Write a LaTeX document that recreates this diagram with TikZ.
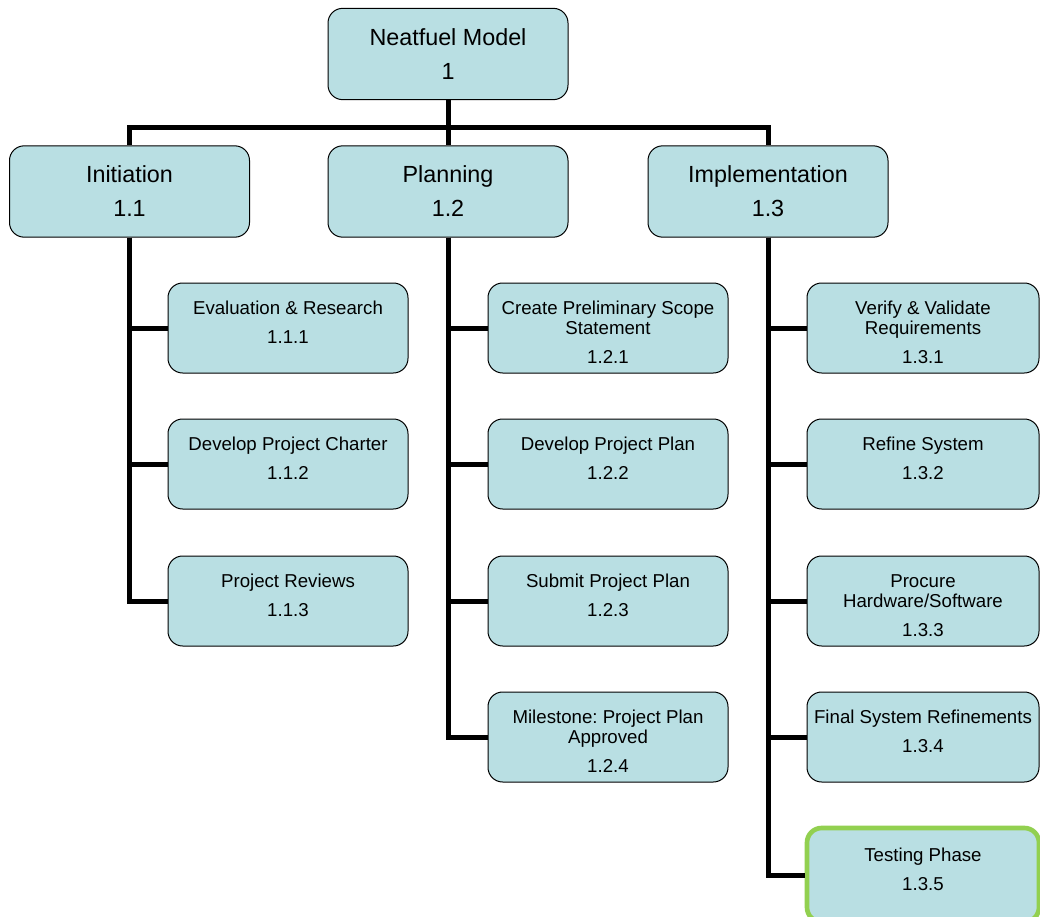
\documentclass[tikz,border=0pt]{standalone}
\usepackage{fontspec}
\setmainfont{Liberation Sans}
\usepackage{tikz}
\frenchspacing
\definecolor{wbsfill}{HTML}{B9DFE3}
\definecolor{wbsgreen}{HTML}{92D050}
\newcommand{\wbs}[2]{\parbox[c][67.5pt][t]{170pt}{\fontsize{14}{15}\selectfont\centering\rule{0pt}{23.8pt}#1\par\vspace{6.75pt}#2}}

\begin{document}
\begin{tikzpicture}[x=0.75pt, y=-0.75pt,
    box/.style={draw=black, line width=0.75pt, fill=wbsfill, rounded corners=11pt, inner sep=0pt},
    big/.style={box, minimum width=180pt, minimum height=68.5pt, align=center, font=\fontsize{17.5}{20}\selectfont},
    small/.style={box, minimum width=180pt, minimum height=67.5pt},
    narrow/.style={small, minimum width=174pt},
    link/.style={line width=3.75pt}]
    \useasboundingbox (0,0) rectangle (1040,917);
    \clip (0,0) rectangle (1040,917);
    \node[big] (neat) at (448,54) {Neatfuel Model\\[5.5pt]1};
    \node[big] (init) at (129.5,191.5) {Initiation\\[5.5pt]1.1};
    \node[big] (plan) at (448,191.5) {Planning\\[5.5pt]1.2};
    \node[big] (impl) at (768,191.5) {Implementation\\[5.5pt]1.3};

    \node[small] (init1) at (288,328) {\wbs{Evaluation \& Research}{1.1.1}};
    \node[small] (init2) at (288,464) {\wbs{Develop Project Charter}{1.1.2}};
    \node[small] (init3) at (288,601) {\wbs{Project Reviews}{1.1.3}};

    \node[small] (plan1) at (608,328) {\wbs{Create Preliminary Scope\\Statement}{1.2.1}};
    \node[small] (plan2) at (608,464) {\wbs{Develop Project Plan}{1.2.2}};
    \node[small] (plan3) at (608,601) {\wbs{Submit Project Plan}{1.2.3}};
    \node[small] (plan4) at (608,737) {\wbs{Milestone: Project Plan\\Approved}{1.2.4}};

    \node[narrow] (impl1) at (923,328) {\wbs{Verify \& Validate\\Requirements}{1.3.1}};
    \node[narrow] (impl2) at (923,464) {\wbs{Refine System}{1.3.2}};
    \node[narrow] (impl3) at (923,601) {\wbs{Procure\\Hardware/Software}{1.3.3}};
    \node[narrow] (impl4) at (923,737) {\wbs{Final System Refinements}{1.3.4}};
    \node[narrow, minimum height=70.5pt, draw=wbsgreen, line width=3.5pt] (impl5) at (923,875) {\wbs{Testing Phase}{1.3.5}};

    \draw[link] (neat.south) -- (plan.north);
    \draw[link] (neat.south) -- ++(0,27) -| (init.north);
    \draw[link] (neat.south) -- ++(0,27) -| (impl.north);
    \foreach \c in {init1,init2,init3}
        \draw[link] (init.south) |- (\c.west);
    \foreach \c in {plan1,plan2,plan3,plan4}
        \draw[link] (plan.south) |- (\c.west);
    \foreach \c in {impl1,impl2,impl3,impl4,impl5}
        \draw[link] (impl.south) |- (\c.west);
\end{tikzpicture}
\end{document}
